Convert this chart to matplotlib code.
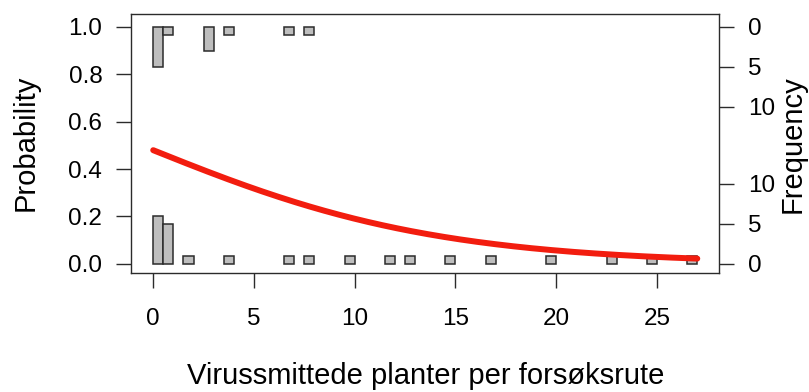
import numpy as np
import matplotlib
matplotlib.use("Agg")
import matplotlib.pyplot as plt

plt.rcParams['font.family'] = ['Liberation Sans', 'DejaVu Sans']

# observasjoner: x-verdi og antall for utfall 0 og 1
x_zero = [0, 1, 2, 4, 7, 8, 10, 12, 13, 15, 17, 20, 23, 25, 27]
n_zero = [6, 5, 1, 1, 1, 1, 1, 1, 1, 1, 1, 1, 1, 1, 1]
x_one = [0, 1, 3, 4, 7, 8]
n_one = [5, 1, 3, 1, 1, 1]

x_ticks = [0, 5, 10, 15, 20, 25]
y_ticks = [0.0, 0.2, 0.4, 0.6, 0.8, 1.0]
freq_ticks = [0, 5, 10]

BIN_W = 0.5
SCALE = 0.0337       # sannsynlighet per telling
TICK_FONT = 17.5
LABEL_FONT = 21


def fit_logit(x, y, w):
    """enkel IRLS for logistisk regresjon"""
    X = np.column_stack([np.ones_like(x), x])
    beta = np.zeros(2)
    for _ in range(50):
        p = 1 / (1 + np.exp(-X @ beta))
        W = w * p * (1 - p)
        z = X @ beta + (y - p) / (p * (1 - p))
        beta = np.linalg.solve(X.T @ (W[:, None] * X), X.T @ (W * z))
    return beta


def bin_left(values):
    edges = np.arange(0, 28 + BIN_W, BIN_W)
    idx = np.clip(np.searchsorted(edges, values, side='left') - 1, 0, None)
    return edges[idx]


xs = np.array(x_zero + x_one, dtype=float)
ys = np.array([0] * len(x_zero) + [1] * len(x_one), dtype=float)
ws = np.array(n_zero + n_one, dtype=float)
beta = fit_logit(xs, ys, ws)

fig = plt.figure(figsize=(8.09, 3.92), dpi=100)
ax = fig.add_axes([0.1625, 0.3036, 0.7263, 0.6607])

bar_kw = dict(width=BIN_W, align='edge', color='#BEBEBE', edgecolor='#2b2b2b',
              linewidth=1.1, zorder=2)
ax.bar(bin_left(np.array(x_zero, float)), np.array(n_zero) * SCALE, bottom=0, **bar_kw)
ax.bar(bin_left(np.array(x_one, float)), -np.array(n_one) * SCALE, bottom=1, **bar_kw)

xc = np.linspace(0, 27, 300)
pc = 1 / (1 + np.exp(-(beta[0] + beta[1] * xc)))
ax.plot(xc, pc, color='#F21D0F', linewidth=4.3, solid_capstyle='round', zorder=3)

ax.set_xlim(-1.08, 28.08)
ax.set_ylim(-0.038, 1.053)
ax.set_xticks(x_ticks)
ax.set_yticks(y_ticks)
ax.set_yticklabels([f"{v:.1f}" for v in y_ticks])
ax.tick_params(axis='both', direction='out', length=11, width=1, labelsize=TICK_FONT,
               color='#2b2b2b')
ax.tick_params(axis='x', pad=14)
ax.tick_params(axis='y', pad=10)
for s in ax.spines.values():
    s.set_linewidth(1)
    s.set_color('#2b2b2b')

ax2 = ax.twinx()
ax2.set_ylim(ax.get_ylim())
pos = [f * SCALE for f in freq_ticks] + [1 - f * SCALE for f in freq_ticks]
lab = [str(f) for f in freq_ticks] * 2
ax2.set_yticks(pos)
ax2.set_yticklabels(lab)
ax2.tick_params(axis='y', direction='out', length=11, width=1, labelsize=TICK_FONT,
                color='#2b2b2b', pad=10)
for s in ax2.spines.values():
    s.set_visible(False)

fig.text(426 / 809, 1 - 376 / 392, "Virussmittede planter per forsøksrute",
         fontsize=LABEL_FONT, ha='center', va='center')
fig.text(26 / 809, 1 - 143 / 392, "Probability", fontsize=LABEL_FONT,
         rotation=90, ha='center', va='center')
fig.text(793 / 809, 1 - 144 / 392, "Frequency", fontsize=LABEL_FONT,
         rotation=90, ha='center', va='center')

fig.savefig("out.png", dpi=100)
